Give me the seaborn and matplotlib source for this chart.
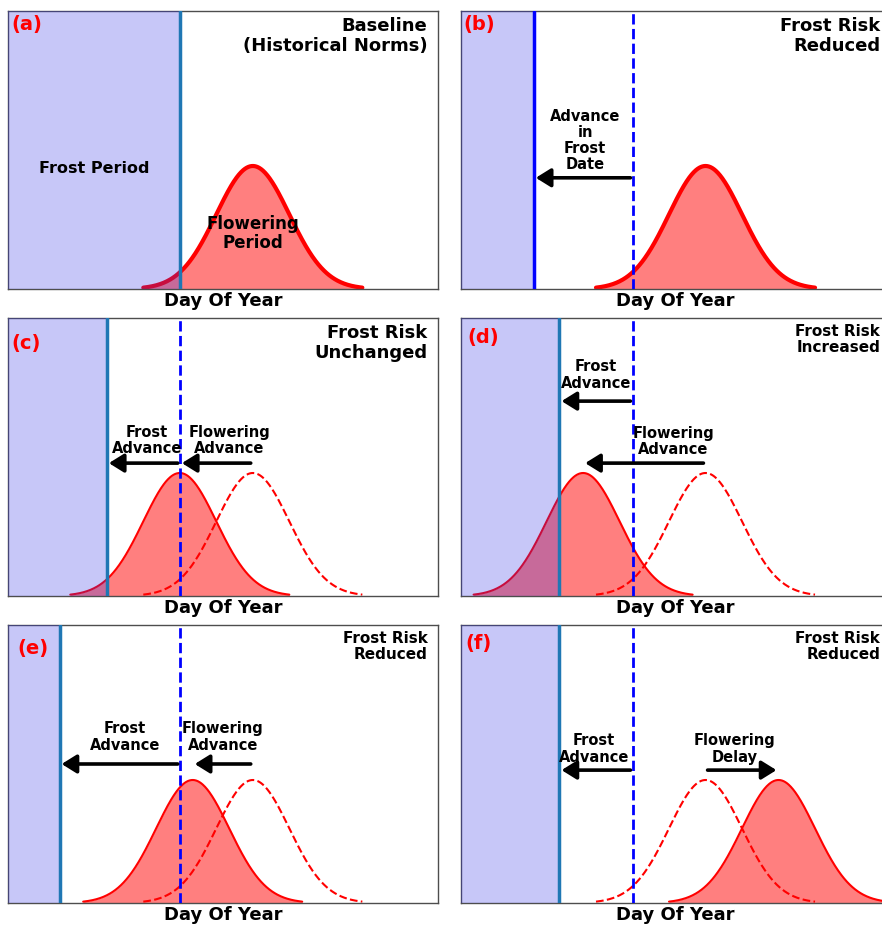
import numpy as np
import pandas as pd
import matplotlib
matplotlib.use("Agg")
import matplotlib.pyplot as plt
import seaborn as sns

sns.set_theme(style="white")
plt.rcParams["font.family"] = ["DejaVu Sans"]
plt.rcParams["font.weight"] = "bold"
plt.rcParams["text.color"] = "black"
plt.rcParams["axes.labelcolor"] = "black"

# ---- scenario values (day of year) ----
panel_tags = ["(a)", "(b)", "(c)", "(d)", "(e)", "(f)"]
panel_titles = [
    "Baseline\n(Historical Norms)",
    "Frost Risk\nReduced",
    "Frost Risk\nUnchanged",
    "Frost Risk\nIncreased",
    "Frost Risk\nReduced",
    "Frost Risk\nReduced",
]
baseline_frost_day = 80
baseline_flower_day = 114
frost_day = [80, 34, 46, 46, 24, 46]
flower_day = [114, 114, 80, 57, 86, 148]
flower_spread = 17          # standard deviation of the flowering period, days
flower_peak = 1.0
day_range = (0, 200)

frost_labels = [None, "Advance\nin\nFrost\nDate", "Frost\nAdvance", "Frost\nAdvance",
                "Frost\nAdvance", "Frost\nAdvance"]
flower_labels = [None, None, "Flowering\nAdvance", "Flowering\nAdvance",
                 "Flowering\nAdvance", "Flowering\nDelay"]

# ---- layout ----
fig_w, fig_h = 882, 925
col_left = [8, 460.7]
row_top = [11, 318, 625]
ax_w, ax_h = 429.5, 278

tag_xy = [(0.009, 0.95), (0.006, 0.95), (0.009, 0.91), (0.016, 0.93), (0.021, 0.917), (0.012, 0.935)]
title_size = [13, 13, 13, 11, 11, 11]
curve_lw = [3, 3, 1.5, 1.5, 1.5, 1.5]
frost_line_color = ["#1f77b4", "blue", "#1f77b4", "#1f77b4", "#1f77b4", "#1f77b4"]
frost_arrow_y = [None, 0.40, 0.478, 0.701, 0.50, 0.478]
flower_arrow_y = [None, None, 0.478, 0.478, 0.50, 0.478]
frost_text_xy = [None, (57.9, 0.534), (64.7, 0.558), (63, 0.795), (54.5, 0.597), (62, 0.554)]
flower_text_xy = [None, None, (103, 0.558), (98.9, 0.556), (100, 0.597), (127.7, 0.554)]

ylim = (0, 2.26)


def bell(center):
    x = np.linspace(center - 3 * flower_spread, center + 3 * flower_spread, 400)
    y = flower_peak * np.exp(-0.5 * ((x - center) / flower_spread) ** 2)
    return pd.DataFrame({"day": x, "density": y})


def arrow(ax, start, end, yfrac):
    ax.annotate("", xy=(end, yfrac), xytext=(start, yfrac),
                xycoords=("data", "axes fraction"), textcoords=("data", "axes fraction"),
                arrowprops=dict(arrowstyle="-|>,head_length=0.45,head_width=0.28",
                                lw=2.6, color="black", shrinkA=1.5, shrinkB=1.5,
                                mutation_scale=20), zorder=6)


fig = plt.figure(figsize=(fig_w / 100, fig_h / 100), dpi=100)

for i in range(6):
    r, c = divmod(i, 2)
    ax = fig.add_axes([col_left[c] / fig_w, 1 - (row_top[r] + ax_h) / fig_h,
                       ax_w / fig_w, ax_h / fig_h])
    ax.set_xlim(*day_range)
    ax.set_ylim(*ylim)

    # current flowering period
    cur = bell(flower_day[i])
    ax.fill_between(cur["day"], cur["density"], color="red", alpha=0.5, lw=0, zorder=1)
    sns.lineplot(data=cur, x="day", y="density", ax=ax, color="red",
                 lw=curve_lw[i], zorder=2)

    # historical flowering period for comparison
    if flower_day[i] != baseline_flower_day:
        ref = bell(baseline_flower_day)
        sns.lineplot(data=ref, x="day", y="density", ax=ax, color="red",
                     lw=1.5, linestyle="--", zorder=2)

    # frost period
    ax.axvspan(day_range[0], frost_day[i], color="#3333e6", alpha=0.27, lw=0, zorder=3)
    ax.axvline(frost_day[i], color=frost_line_color[i], lw=2.5, zorder=4)
    if frost_day[i] != baseline_frost_day:
        ax.axvline(baseline_frost_day, color="blue", lw=2, linestyle="--", zorder=4)

    # shift arrows and labels
    if frost_arrow_y[i] is not None:
        arrow(ax, baseline_frost_day, frost_day[i], frost_arrow_y[i])
        tx, ty = frost_text_xy[i]
        ax.text(tx, ty, frost_labels[i], transform=ax.get_xaxis_transform(),
                ha="center", va="center", fontsize=10.5, fontweight="bold",
                linespacing=1.1, zorder=7)
    if flower_arrow_y[i] is not None:
        arrow(ax, baseline_flower_day, flower_day[i], flower_arrow_y[i])
        tx, ty = flower_text_xy[i]
        ax.text(tx, ty, flower_labels[i], transform=ax.get_xaxis_transform(),
                ha="center", va="center", fontsize=10.5, fontweight="bold",
                linespacing=1.1, zorder=7)

    if i == 0:
        ax.text(baseline_frost_day / 2, 0.432, "Frost Period", transform=ax.get_xaxis_transform(),
                ha="center", va="center", fontsize=11.5, fontweight="bold", zorder=7)
        ax.text(baseline_flower_day, 0.2, "Flowering\nPeriod", transform=ax.get_xaxis_transform(),
                ha="center", va="center", fontsize=12, fontweight="bold",
                linespacing=1.05, zorder=7)

    ax.text(tag_xy[i][0], tag_xy[i][1], panel_tags[i], transform=ax.transAxes,
            ha="left", va="center", fontsize=14, fontweight="bold", color="red", zorder=8)
    ax.text(0.977, 0.978, panel_titles[i], transform=ax.transAxes, ha="right", va="top",
            fontsize=title_size[i], fontweight="bold", linespacing=1.1, zorder=8)

    ax.set_xticks([])
    ax.set_yticks([])
    ax.set_ylabel("")
    ax.set_xlabel("Day Of Year", fontsize=13, fontweight="bold", labelpad=2.5)
    for sp in ax.spines.values():
        sp.set_visible(True)
        sp.set_color("#4d4d4d")
        sp.set_linewidth(1.0)
    if ax.get_legend() is not None:
        ax.get_legend().remove()

fig.savefig("out.png", dpi=100, facecolor="white")
